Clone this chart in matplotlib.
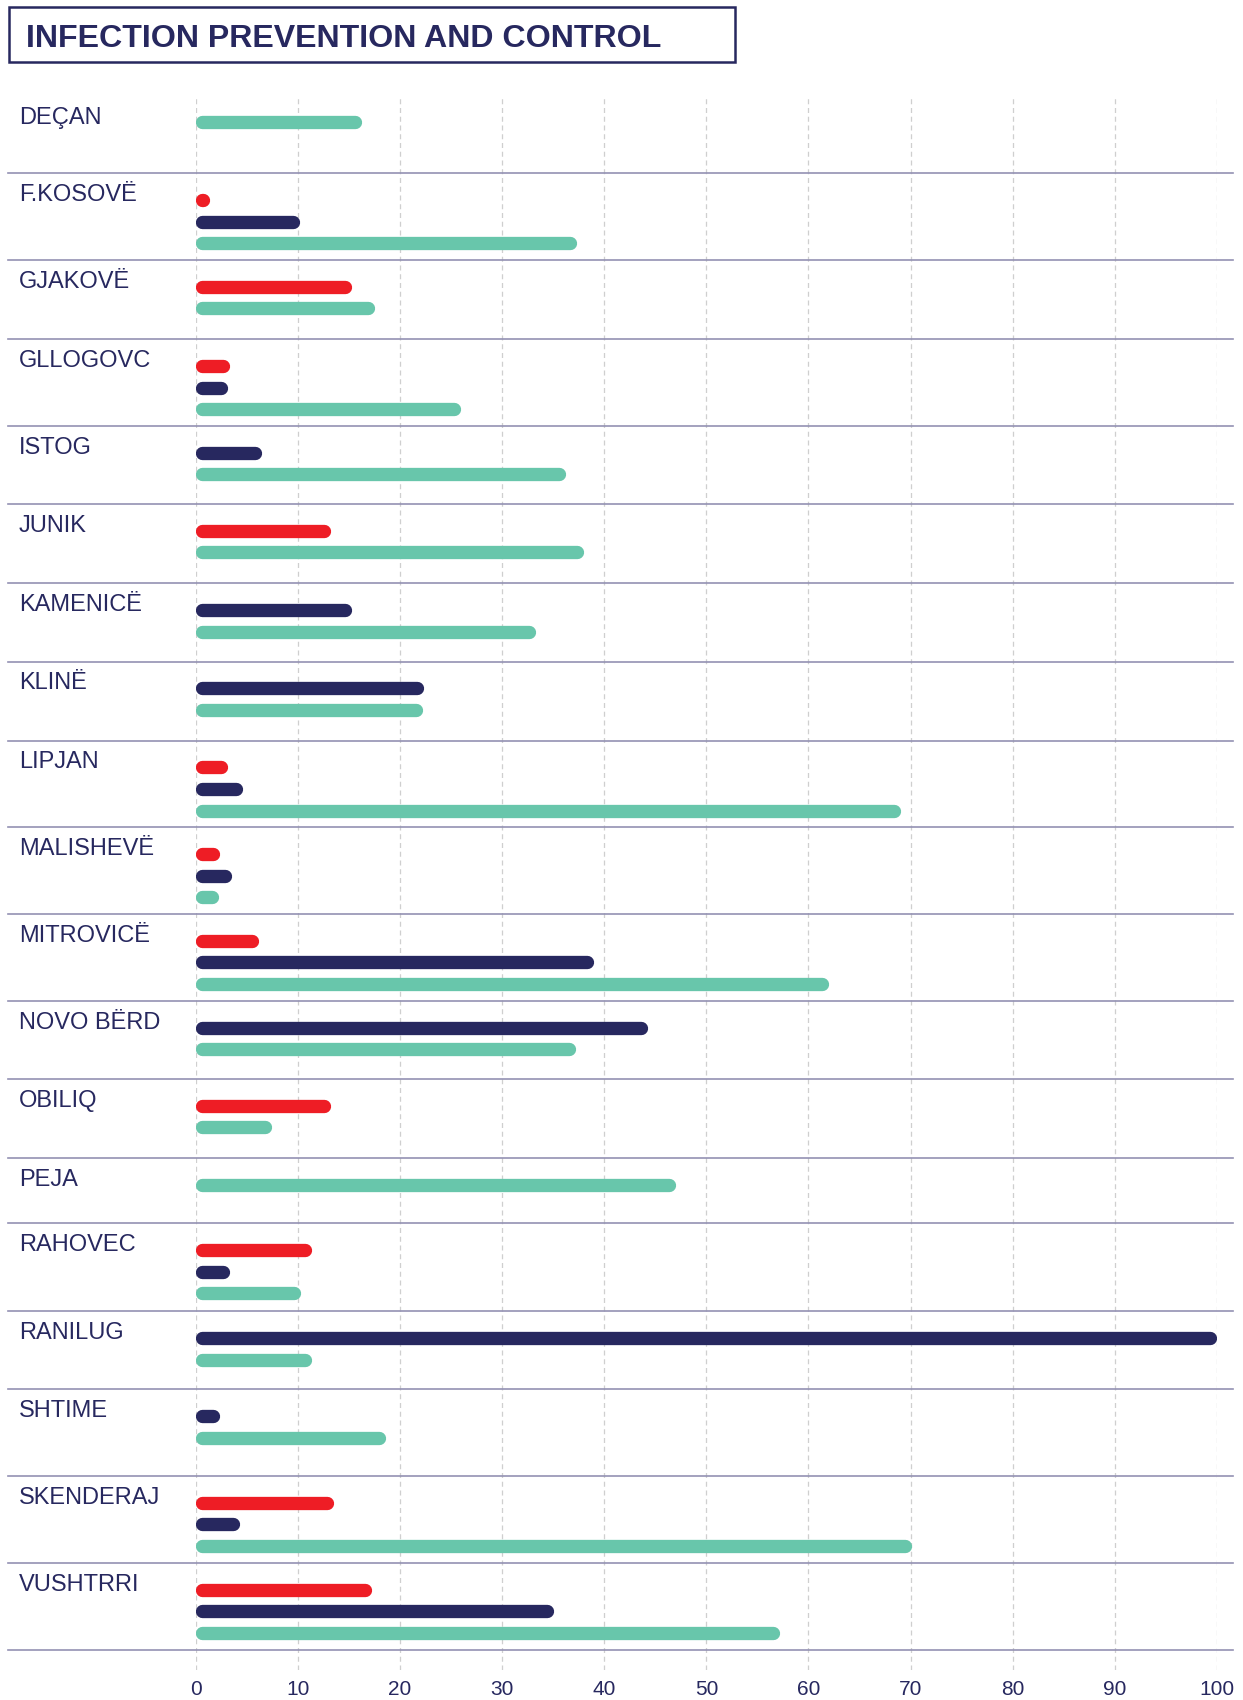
import matplotlib.pyplot as plt
from matplotlib.lines import Line2D
from matplotlib.patches import Rectangle
from matplotlib.transforms import blended_transform_factory

plt.rcParams['font.family'] = ['Liberation Sans', 'DejaVu Sans']

municipalities = ['DEÇAN', 'F.KOSOVË', 'GJAKOVË', 'GLLOGOVC', 'ISTOG', 'JUNIK',
                  'KAMENICË', 'KLINË', 'LIPJAN', 'MALISHEVË', 'MITROVICË',
                  'NOVO BËRD', 'OBILIQ', 'PEJA', 'RAHOVEC', 'RANILUG',
                  'SHTIME', 'SKENDERAJ', 'VUSHTRRI']
# None = no bar for that municipality
red_vals = [None, 1.4, 15.3, 3.3, None, 13.2, None, None, 3.1, 2.3, 6.2,
            None, 13.2, None, 11.4, None, None, 13.5, 17.2]
navy_vals = [None, 10.2, None, 3.1, 6.5, None, 15.3, 22.3, 4.6, 3.5, 39.0,
             44.3, None, None, 3.3, 100.0, 2.3, 4.3, 35.0]
green_vals = [16.2, 37.3, 17.5, 25.9, 36.2, 38.0, 33.3, 22.2, 69.0, 2.2, 62.0,
              37.2, 7.4, 47.0, 10.3, 11.4, 18.6, 70.1, 57.2]
xticks = list(range(0, 101, 10))
title = 'INFECTION PREVENTION AND CONTROL'

NAVY = '#27285f'
RED = '#ee1d25'
GREEN = '#68c6ab'
RULE = '#9391b3'
GRID = '#cfcfcf'

# page layout in pixels (from the top-left corner)
W, H = 1243, 1700
x0_px, x1_px = 195.7, 1217.0
top_px, bot_px = 96.0, 1670.0
row_h = [77.5, 86.8, 79.2, 86.7, 78.1, 79.2, 78.1, 79.2, 86.7, 86.8, 86.8,
         78.1, 79.2, 65.0, 87.9, 78.1, 86.8, 86.8, 86.8]
first_bar = 26.5
bar_gap = 21.7
bar_px = 13.3

fig = plt.figure(figsize=(W / 100, H / 100), dpi=100)
ax = fig.add_axes([x0_px / W, 1 - bot_px / H, (x1_px - x0_px) / W, (bot_px - top_px) / H])
ax.set_xlim(0, 100)
ax.set_ylim(bot_px, top_px)
for s in ax.spines.values():
    s.set_visible(False)
ax.set_yticks([])
ax.set_xticks(xticks)
ax.tick_params(axis='x', length=0, pad=7, labelsize=15, labelcolor=NAVY)
ax.grid(axis='x', color=GRID, lw=0.9, ls=(0, (4, 3)))
ax.set_axisbelow(True)

lw_pt = bar_px * 72 / 100
r = (bar_px / 2) / ((x1_px - x0_px) / 100)  # round cap radius in data units
side = blended_transform_factory(fig.transFigure, ax.transData)

y_top = top_px
for i, name in enumerate(municipalities):
    ax.text(19 / W, y_top + 27.7, name, transform=side, fontsize=17,
            color=NAVY, va='baseline', ha='left')
    k = 0
    for vals, col in ((red_vals, RED), (navy_vals, NAVY), (green_vals, GREEN)):
        v = vals[i]
        if v is None:
            continue
        y = y_top + first_bar + k * bar_gap
        ax.plot([r, max(v - r, r + 0.01)], [y, y], color=col, lw=lw_pt,
                solid_capstyle='round', zorder=3)
        k += 1
    y_top += row_h[i]
    fig.add_artist(Line2D([8 / W, 1233 / W], [y_top, y_top], transform=side,
                          color=RULE, lw=1.2, zorder=2))

# title box
fig.add_artist(Rectangle((9 / W, 1 - 62 / H), (735 - 9) / W, (62 - 6.5) / H,
                         transform=fig.transFigure, fill=False, ec=NAVY, lw=1.8))
t = fig.text(26 / W, 1 - 46.6 / H, title, fontsize=24, fontweight='bold',
             color=NAVY, va='baseline', ha='left')
fig.canvas.draw()
w = t.get_window_extent(fig.canvas.get_renderer()).width
t.set_fontsize(24 * 636 / w)

fig.savefig('out.png', dpi=100)
